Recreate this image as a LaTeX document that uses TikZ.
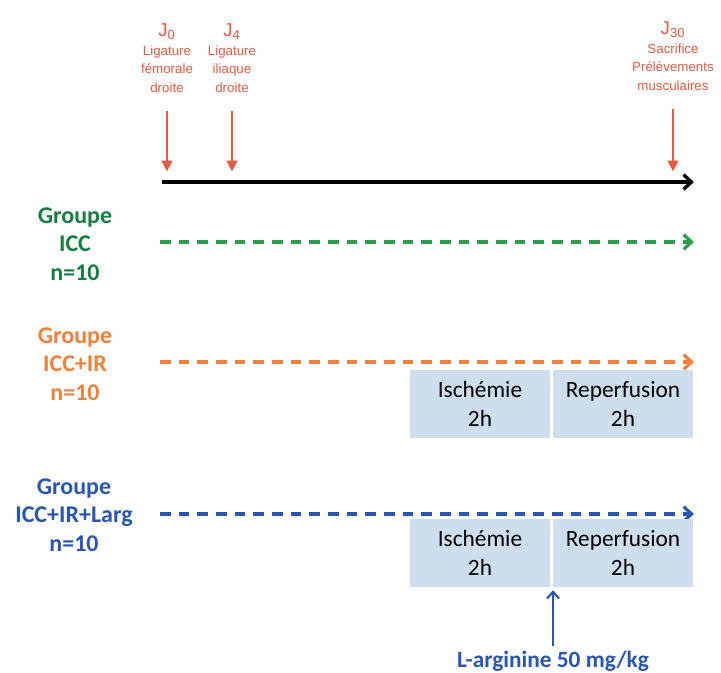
\documentclass[tikz,border=0pt]{standalone}
\usepackage{fontspec}
\setmainfont{Carlito}
\setsansfont{Liberation Sans}
\usetikzlibrary{arrows.meta}
\definecolor{jred}{RGB}{238,88,64}
\definecolor{grgreen}{RGB}{18,128,62}
\definecolor{lngreen}{RGB}{40,160,75}
\definecolor{grorange}{RGB}{244,128,56}
\definecolor{grblue}{RGB}{40,86,184}
\definecolor{boxblue}{RGB}{205,222,238}

\begin{document}
\begin{tikzpicture}[x=0.75pt,y=-0.75pt,
    jour/.style={text=jred,align=center,anchor=north,font=\sffamily\fontsize{10}{14}\selectfont},
    grp/.style={align=center,font=\bfseries\fontsize{18}{21.5}\selectfont},
    phase/.style={fill=boxblue,minimum width=105pt,minimum height=51.5pt,inner sep=0pt,
      align=center,font=\fontsize{17.5}{22}\selectfont},
    dash line/.style={line width=2.4pt,dash pattern=on 8pt off 6pt,-{Straight Barb[length=6pt,width=11pt]}}]

\useasboundingbox (0,0) rectangle (721,672);

% time points
\node[jour] (J0) at (167,19) {{\fontsize{14}{14}\selectfont J\textsubscript{0}}\\Ligature\\fémorale\\droite};
\node[jour] (J4) at (232,19) {{\fontsize{14}{14}\selectfont J\textsubscript{4}}\\Ligature\\iliaque\\droite};
\node[jour] (J30) at (673,17) {{\fontsize{14}{14}\selectfont J\textsubscript{30}}\\Sacrifice\\Prélèvements\\musculaires};

\coordinate (tstart) at (162,182);
\coordinate (tend) at (694,182);
\draw[line width=2.5pt,-{Straight Barb[length=6pt,width=11pt]}] (tstart) -- (tend);

\foreach \j in {J0,J4,J30}
  \draw[jred,line width=1.6pt,-{Triangle[length=8pt,width=8pt]},shorten <=10pt,shorten >=8pt]
    (\j.south) -- (\j.south |- tstart);

% groups
\node[grp,text=grgreen] (grpICC) at (75,244) {Groupe\\ICC\\n=10};
\node[grp,text=grorange] (grpIR) at (75,364) {Groupe\\ICC+IR\\n=10};
\node[grp,text=grblue] (grpLarg) at (74,515) {Groupe\\ICC+IR+Larg\\n=10};

\coordinate (gA) at (160,242);
\coordinate (gB) at (160,362);
\coordinate (gC) at (160,514);
\draw[dash line,lngreen] (gA) -- (gA -| tend);
\draw[dash line,grorange] (gB) -- (gB -| tend);
\draw[dash line,grblue] (gC) -- (gC -| tend);

% phases
\node[phase] (isch1) at (480,404) {Ischémie\\2h};
\node[phase] (rep1) at (623,404) {Reperfusion\\2h};
\node[phase] (isch2) at (480,553) {Ischémie\\2h};
\node[phase] (rep2) at (623,553) {Reperfusion\\2h};

\node[grblue,font=\bfseries\fontsize{17.5}{20}\selectfont] (larg) at (553,661) {L-arginine 50 mg/kg};
\draw[grblue,line width=1.6pt,-{Straight Barb[length=5pt,width=9pt]},shorten >=2pt]
  (larg.north) -- (larg.north |- isch2.south);

\end{tikzpicture}
\end{document}
